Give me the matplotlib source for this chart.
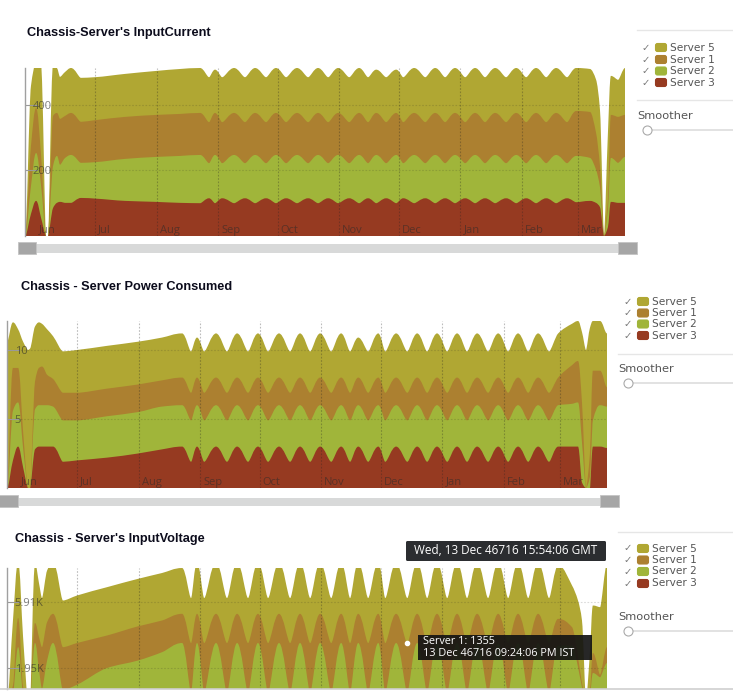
import numpy as np
import matplotlib
matplotlib.use("Agg")
import matplotlib.pyplot as plt
from matplotlib.patches import FancyBboxPatch, PathPatch, Rectangle
from matplotlib.path import Path

WIDTH = 733
HEIGHT = 694

plt.rcParams["font.family"] = ["Open Sans", "DejaVu Sans"]

# days since 1 Jun, shared by the three charts
sample_days = [
    -5.3, -2.3, 0.3, 2.8, 5.3, 6.3, 8.8, 10.8, 12.3, 14.9, 17.9, 22.9, 30, 45.1, 60.7, 72.8, 82.9,
    87.4, 90.4, 94, 100, 105.5, 110.6, 116.1, 121.1, 126.2, 131.7, 137.3, 142.3, 147.4, 152.4, 158, 163, 167.5, 171.6,
    176.6, 181.7, 185.2, 190.7, 196.3, 201.3, 206.3, 211.3, 216.4, 221.4, 226.4, 231.5, 237, 242.1, 247.1, 252.1, 257.2, 262.2, 267.7,
    272.3, 279.3, 282.3, 284.3, 286.3, 288.3, 289.8, 293.4, 296.9,
]
month_days = [0, 30, 61, 92, 122, 153, 183, 214, 245, 273]
month_labels = ["Jun", "Jul", "Aug", "Sep", "Oct", "Nov", "Dec", "Jan", "Feb", "Mar"]
server_names = ["Server 5", "Server 1", "Server 2", "Server 3"]
server_colors = ["#b0a733", "#ac8030", "#a0b53a", "#963a21"]

# InputCurrent
current_s5 = [
    0, 183, 134, 275, 0, 0, 153, 137, 128, 134, 137, 134, 131, 131, 134, 137, 137,
    137, 132, 137, 137, 137, 137, 137, 137, 137, 137, 137, 137, 137, 137, 137, 137, 137, 132,
    137, 132, 137, 137, 137, 137, 137, 137, 137, 137, 137, 137, 137, 137, 137, 137, 137, 137, 137,
    131, 131, 162, 171, 0, 204, 119, 113, 143,
]
current_s1 = [
    0, 122, 137, 92, 0, 0, 153, 131, 140, 128, 128, 125, 128, 128, 128, 128, 128,
    125, 128, 125, 128, 125, 128, 125, 128, 125, 128, 125, 128, 125, 128, 125, 128, 125, 128,
    125, 128, 125, 128, 125, 128, 125, 128, 125, 128, 125, 128, 125, 128, 125, 128, 125, 128, 125,
    137, 140, 113, 64, 0, 31, 131, 140, 128,
]
current_s2 = [
    0, 85, 146, 98, 0, 0, 128, 143, 113, 137, 146, 107, 111, 128, 137, 143, 147,
    107, 147, 107, 147, 107, 147, 107, 147, 107, 147, 107, 147, 107, 147, 107, 147, 107, 147,
    107, 147, 107, 147, 107, 147, 107, 147, 107, 147, 107, 147, 107, 147, 107, 147, 107, 147, 107,
    141, 131, 101, 61, 0, 52, 134, 122, 140,
]
current_s3 = [
    0, 67, 107, 55, 0, 0, 85, 101, 104, 101, 101, 116, 114, 107, 104, 101, 100,
    115, 100, 115, 100, 115, 100, 115, 100, 115, 100, 115, 100, 115, 100, 115, 100, 115, 100,
    115, 100, 115, 100, 115, 100, 115, 100, 115, 100, 115, 100, 115, 100, 115, 100, 115, 100, 115,
    103, 107, 101, 88, 0, 27, 104, 101, 101,
]

# Power consumed
power_s5 = [
    10.6, 3.3, 2.8, 6.5, 10, 10.1, 4.0, 3.3, 3.1, 3.3, 3.1, 3.0, 3.1, 3.1, 3.1, 3.1, 3.2,
    3.0, 2.9, 3.0, 3.2, 3.0, 3.2, 3.0, 3.2, 3.0, 3.2, 3.0, 3.2, 3.0, 3.2, 3.0, 3.2, 3.0, 2.9,
    3.0, 3.2, 3.0, 3.2, 3.0, 3.2, 3.0, 3.2, 3.0, 3.2, 3.0, 3.2, 3.0, 3.2, 3.0, 3.2, 3.0, 3.2, 3.0,
    3.2, 3.0, 2.9, 5.1, 10, 9.1, 3.6, 3.6, 3.9,
]
power_s1 = [
    0, 3.1, 2.5, 1.2, 0, 0, 2.0, 2.7, 2.8, 2.2, 2.0, 2.0, 2.0, 2.0, 2.0, 1.9, 2.0,
    2.0, 2.0, 2.0, 2.0, 2.0, 2.0, 2.0, 2.0, 2.0, 2.0, 2.0, 2.0, 2.0, 2.0, 2.0, 2.0, 2.0, 2.0,
    2.0, 2.0, 2.0, 2.0, 2.0, 2.0, 2.0, 2.0, 2.0, 2.0, 2.0, 2.0, 2.0, 2.0, 2.0, 2.0, 2.0, 2.0, 2.0,
    2.0, 2.8, 3.0, 2.9, 0, 1.7, 3.6, 2.5, 1.4,
]
power_s2 = [
    0, 3.6, 3.2, 1.4, 0, 0, 2.9, 3.0, 3.0, 3.0, 2.9, 3.0, 2.9, 3.0, 3.0, 3.1, 3.0,
    3.0, 3.0, 3.0, 3.0, 3.0, 3.0, 3.0, 3.0, 3.0, 3.0, 3.0, 3.0, 3.0, 3.0, 3.0, 3.0, 3.0, 3.0,
    3.0, 3.0, 3.0, 3.0, 3.0, 3.0, 3.0, 3.0, 3.0, 3.0, 3.0, 3.0, 3.0, 3.0, 3.0, 3.0, 3.0, 3.0, 3.0,
    3.0, 3.1, 3.2, 2.9, 0, 0.8, 1.9, 3.0, 3.0,
]
power_s3 = [
    0, 2.0, 3.0, 1.5, 0, 0, 2.8, 3.0, 3.0, 3.0, 3.0, 1.9, 2.0, 2.2, 2.5, 2.8, 3.0,
    1.9, 3.0, 1.9, 3.0, 1.9, 3.0, 1.9, 3.0, 1.9, 3.0, 1.9, 3.0, 1.9, 3.0, 1.9, 3.0, 1.9, 3.0,
    1.9, 3.0, 1.9, 3.0, 1.9, 3.0, 1.9, 3.0, 1.9, 3.0, 1.9, 3.0, 1.9, 3.0, 1.9, 3.0, 1.9, 3.0, 1.9,
    3.0, 3.0, 3.0, 0.4, 0, 0, 3.0, 3.0, 2.9,
]

# InputVoltage, in thousands
voltage_s5 = [
    0, 3.9, 3.35, 3.0, 0, 0, 3.55, 3.25, 2.95, 3.1, 3.1, 2.8, 2.85, 2.9, 2.85, 2.85, 2.75,
    2.7, 3.1, 2.7, 3.1, 2.7, 3.1, 2.7, 3.1, 2.7, 3.1, 2.7, 3.1, 2.7, 3.1, 2.7, 3.1, 2.7, 3.1,
    2.7, 3.1, 2.7, 3.1, 2.7, 3.1, 2.7, 3.1, 2.7, 3.1, 2.7, 3.1, 2.7, 3.1, 2.7, 3.1, 2.7, 3.1, 2.7,
    3.2, 2.5, 3.4, 3.75, 0, 2.25, 2.85, 4.05, 5.0,
]
voltage_s1 = [
    0, 0.5, 1.75, 0.4, 0, 0, 1.2, 1.95, 2.5, 2.3, 1.75, 2.57, 2.5, 1.95, 2.05, 1.9, 1.75,
    2.95, 1.75, 2.95, 1.75, 2.95, 1.75, 2.95, 1.75, 2.95, 1.75, 2.95, 1.75, 2.95, 1.75, 2.95, 1.75, 2.95, 1.75,
    2.95, 1.75, 2.95, 1.75, 2.95, 1.75, 2.95, 1.75, 2.95, 1.75, 2.95, 1.75, 2.95, 1.75, 2.95, 1.75, 2.95, 1.75, 2.95,
    1.6, 1.1, 0.6, 0.25, 0, 0.3, 1.2, 0.15, 0.95,
]
voltage_s2 = [
    0, 0.3, 2.8, 0.3, 0, 0, 3.05, 1.55, 0.5, 2.1, 2.95, 0.43, 0.75, 1.65, 2.0, 2.5, 2.95,
    0.3, 2.95, 0.3, 2.95, 0.3, 2.95, 0.3, 2.95, 0.3, 2.95, 0.3, 2.95, 0.3, 2.95, 0.3, 2.95, 0.3, 2.95,
    0.3, 2.95, 0.3, 2.95, 0.3, 2.95, 0.3, 2.95, 0.3, 2.95, 0.3, 2.95, 0.3, 2.95, 0.3, 2.95, 0.3, 2.95, 0.3,
    2.8, 2.8, 1.6, 0.6, 0, 0.2, 1.45, 1.2, 1.95,
]
voltage_s3 = [
    0, 0.1, 0.4, 0.1, 0, 0, 0.4, 0.3, 0.2, 0.3, 0.5, 0.2, 0.2, 0.3, 0.4, 0.4, 0.5,
    0.2, 0.5, 0.2, 0.5, 0.2, 0.5, 0.2, 0.5, 0.2, 0.5, 0.2, 0.5, 0.2, 0.5, 0.2, 0.5, 0.2, 0.5,
    0.2, 0.5, 0.2, 0.5, 0.2, 0.5, 0.2, 0.5, 0.2, 0.5, 0.2, 0.5, 0.2, 0.5, 0.2, 0.5, 0.2, 0.5, 0.2,
    0.5, 0.5, 0.4, 0.2, 0, 0.1, 0.2, 0.2, 0.3,
]


def curve_path(x, top, base):
    # rounded tops and tight notches, like the d3 area in the original page
    x = np.asarray(x, dtype=float)
    d = np.diff(top) / np.diff(x)
    slope = np.zeros(len(x))
    reach = np.full(len(x), 1 / 3)
    for i in range(1, len(x) - 1):
        if d[i - 1] * d[i] > 0:
            slope[i] = 2 * d[i - 1] * d[i] / (d[i - 1] + d[i])
        elif d[i - 1] >= 0 and d[i] <= 0:
            reach[i] = 0.42
        else:
            reach[i] = 0.24
    verts = [(x[0], base), (x[0], top[0])]
    codes = [Path.MOVETO, Path.LINETO]
    for i in range(len(x) - 1):
        dx = x[i + 1] - x[i]
        verts.append((x[i] + reach[i] * dx, top[i] + slope[i] * reach[i] * dx))
        verts.append((x[i + 1] - reach[i + 1] * dx, top[i + 1] - slope[i + 1] * reach[i + 1] * dx))
        verts.append((x[i + 1], top[i + 1]))
        codes += [Path.CURVE4, Path.CURVE4, Path.CURVE4]
    verts += [(x[-1], base), (x[0], base)]
    codes += [Path.LINETO, Path.CLOSEPOLY]
    return Path(verts, codes)


def draw_chart(fig, box, series, ylim, ytick_values, ytick_labels, show_months=True):
    x0, y0, x1, y1 = box
    ax = fig.add_axes([x0 / WIDTH, 1 - y1 / HEIGHT, (x1 - x0) / WIDTH, (y1 - y0) / HEIGHT])
    ax.set_xlim(sample_days[0], sample_days[-1])
    ax.set_ylim(ylim)
    ax.set_axis_off()

    # painted from the top of the stack down, each layer reaches the baseline
    tops = np.cumsum(np.array(series[::-1], dtype=float), axis=0)[::-1]
    for top, color in zip(tops, server_colors):
        ax.add_patch(PathPatch(curve_path(sample_days, top, 0), facecolor=color, edgecolor="none"))

    for day, label in zip(month_days, month_labels):
        if day > 0:
            ax.axvline(day, color="#222222", alpha=0.3, lw=0.8, ls=(0, (1.5, 1.5)))
        if show_months:
            ax.annotate(label, (day, ylim[0]), xytext=(2.2, 2.5), textcoords="offset points",
                        fontsize=8, color="#2a2a2a", alpha=0.55)
    for value, label in zip(ytick_values, ytick_labels):
        ax.axhline(value, color="#222222", alpha=0.16, lw=0.8, ls=(0, (1.5, 1.5)))
        ax.annotate(label, (sample_days[0], value), xytext=(5.5, -1), textcoords="offset points",
                    fontsize=8, color="#2a2a2a", alpha=0.6, va="center")
        ax.plot([0, 0.02], [value, value], transform=ax.get_yaxis_transform(), color="#999999", lw=0.8)
    ax.axvline(sample_days[0], color="#a0a0a0", lw=1, clip_on=False)
    return ax


def draw_legend(page, swatch_x, row_y, sep_x, sep_ys, smoother_y, slider_y):
    for y, name, color in zip(row_y, server_names, server_colors):
        page.add_patch(FancyBboxPatch((swatch_x + 0.5, y - 4), 11, 8, boxstyle="round,pad=0,rounding_size=2",
                                      facecolor=color, edgecolor=color, lw=0.8))
        page.text(swatch_x - 9, y, "\u2713", family="DejaVu Sans", fontsize=7.2, color="#777777",
                  ha="center", va="center")
        page.text(swatch_x + 15, y, name, family="DejaVu Sans", fontsize=7.6, color="#555555", va="center")
    for y in sep_ys:
        page.plot([sep_x, WIDTH], [y, y], color="#e6e6e6", lw=1)
    page.text(sep_x, smoother_y, "Smoother", family="DejaVu Sans", fontsize=8.2, color="#555555", va="center")
    page.plot([sep_x + 9, WIDTH], [slider_y, slider_y], color="#dddddd", lw=1.2)
    page.plot(sep_x + 10, slider_y, "o", ms=6.5, mfc="white", mec="#aaaaaa", mew=0.8)


def draw_scrollbar(page, x0, x1, y0, y1, handle_y0, handle_y1):
    page.add_patch(Rectangle((x0, y0), x1 - x0, y1 - y0, facecolor="#d8d9d9", edgecolor="none"))
    for hx in (x0, x1 - 18.5):
        page.add_patch(Rectangle((hx, handle_y0), 18.5, handle_y1 - handle_y0, facecolor="#a6a6a6",
                                 edgecolor="#c4c4c4", lw=0.6))


fig = plt.figure(figsize=(WIDTH / 100, HEIGHT / 100), dpi=100, facecolor="white")

draw_chart(fig, (25, 68, 625, 236), [current_s5, current_s1, current_s2, current_s3],
           (0, 512), [400, 200], ["400", "200"])
draw_chart(fig, (7, 321, 607, 488), [power_s5, power_s1, power_s2, power_s3],
           (0, 12.1), [10, 5], ["10", "5"])
# the bottom of this chart is cut off by the page, so its month labels never show
ax3 = draw_chart(fig, (7, 568, 607, 688.5), [voltage_s5, voltage_s1, voltage_s2, voltage_s3],
                 (0.72, 7.95), [5.91, 1.95], ["5.91K", "1.95K"], show_months=False)

# hovered point of the last chart
hover = 39
ax3.plot(sample_days[hover], voltage_s3[hover] + voltage_s2[hover] + voltage_s1[hover], "o",
         ms=3, color="white", zorder=5)

# page furniture, placed in pixels
page = fig.add_axes([0, 0, 1, 1], facecolor="none")
page.set_xlim(0, WIDTH)
page.set_ylim(HEIGHT, 0)
page.set_axis_off()

title_style = dict(family="Liberation Sans", fontweight="bold", fontsize=9.2, color="#0c0c1c", va="center")
page.text(27, 33, "Chassis-Server's InputCurrent", **title_style)
page.text(21, 287, "Chassis - Server Power Consumed", **title_style)
page.text(15, 539, "Chassis - Server's InputVoltage", **title_style)

draw_scrollbar(page, 17.5, 636.5, 244, 253, 242, 254)
draw_scrollbar(page, -1, 618.5, 498, 506, 495, 507)

draw_legend(page, 655, [47.5, 59.5, 71, 82.5], 637, [30, 100], 116, 130)
draw_legend(page, 637, [301.5, 313, 324, 335.5], 618, [353.5], 369, 382.5)
draw_legend(page, 637, [548.5, 560, 571.5, 583.5], 618, [531.5], 617, 631)

page.plot([0, WIDTH], [689, 689], color="#cfcfcf", lw=1.2)

page.add_patch(FancyBboxPatch((406, 541), 200, 20, boxstyle="round,pad=0,rounding_size=1.5",
                              facecolor="#2b2d30", edgecolor="none", zorder=6))
page.text(506, 551, "Wed, 13 Dec 46716 15:54:06 GMT", fontsize=8.5, color="white",
          ha="center", va="center", zorder=7)
page.add_patch(Rectangle((418, 635), 174, 25, facecolor="#141414", alpha=0.92, edgecolor="none", zorder=6))
page.text(423, 641.5, "Server 1: 1355", fontsize=7.8, color="white", va="center", zorder=7)
page.text(423, 653, "13 Dec 46716 09:24:06 PM IST", fontsize=7.8, color="white", va="center", zorder=7)

fig.savefig("out.png", dpi=100)
